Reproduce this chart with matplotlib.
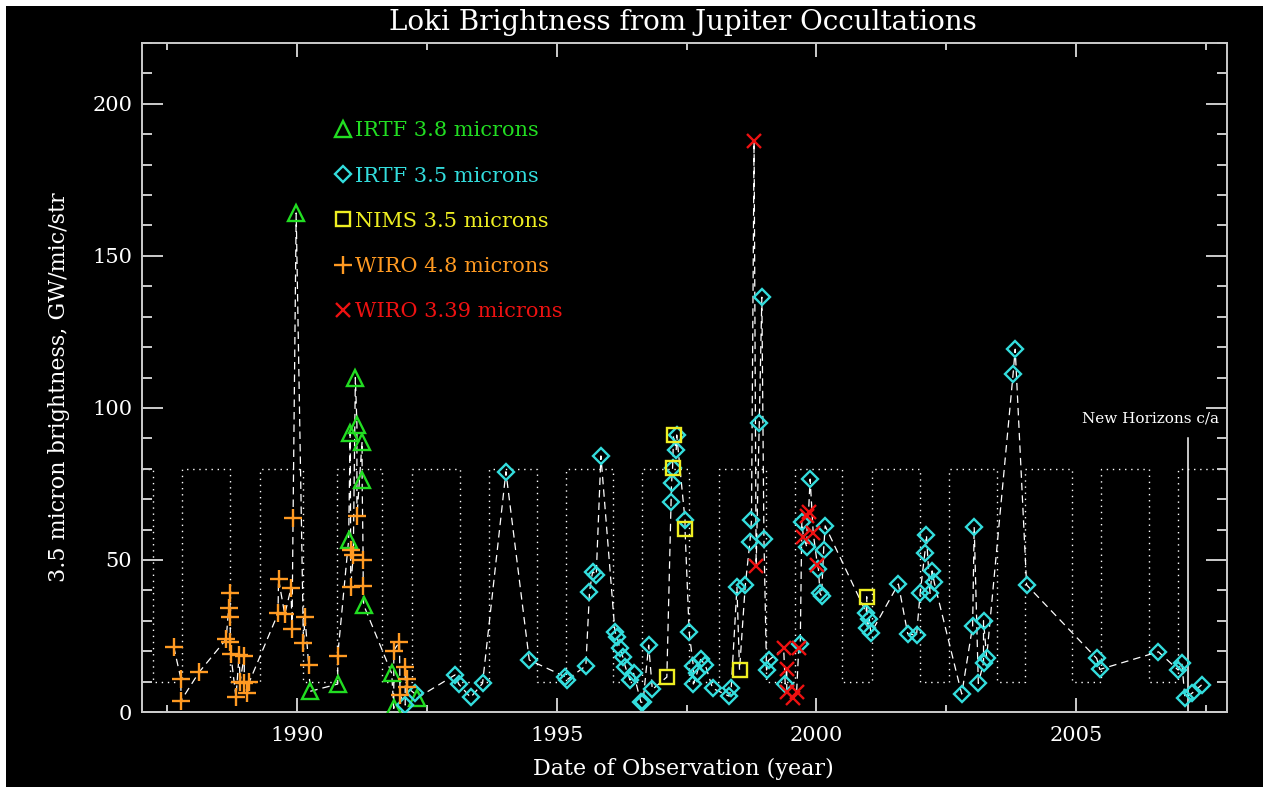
import numpy as np
import matplotlib
matplotlib.use('Agg')
import matplotlib.pyplot as plt
from matplotlib.ticker import MultipleLocator
from matplotlib.patches import Rectangle

plt.rcParams['font.family'] = ['DejaVu Serif']

# IRTF 3.8 microns (green triangles)
irtf38_t = [1989.98, 1990.25, 1990.78, 1990.99, 1991.02, 1991.12, 1991.15, 1991.25,
            1991.25, 1991.28, 1991.82, 1991.86, 1992.30]
irtf38_v = [164.1, 6.8, 9.2, 56.6, 91.7, 110.0, 94.4, 88.9, 76.3, 35.2, 12.7, 1.2, 4.5]

# IRTF 3.5 microns (cyan diamonds)
irtf35_t = [1992.08, 1992.26, 1993.04, 1993.11, 1993.34, 1993.57, 1994.02, 1994.47,
            1995.16, 1995.19, 1995.56, 1995.63, 1995.69, 1995.76, 1995.85, 1996.12,
            1996.16, 1996.21, 1996.27, 1996.32, 1996.41, 1996.48, 1996.62, 1996.66,
            1996.77, 1996.84, 1997.20, 1997.21, 1997.23, 1997.30, 1997.31, 1997.47,
            1997.55, 1997.63, 1997.63, 1997.70, 1997.77, 1997.86, 1998.00, 1998.32,
            1998.36, 1998.47, 1998.63, 1998.72, 1998.75, 1998.90, 1998.95, 1998.99,
            1999.04, 1999.08, 1999.40, 1999.69, 1999.72, 1999.82, 1999.88, 2000.04,
            2000.07, 2000.10, 2000.14, 2000.17, 2000.96, 2000.98, 2001.02, 2001.05,
            2001.58, 2001.76, 2001.93, 2002.00, 2002.09, 2002.12, 2002.19, 2002.23,
            2002.27, 2002.80, 2003.01, 2003.04, 2003.12, 2003.22, 2003.22, 2003.28,
            2003.79, 2003.83, 2004.05, 2005.40, 2005.46, 2006.59, 2006.97, 2007.04,
            2007.10, 2007.23, 2007.42]
irtf35_v = [2.3, 6.1, 12.2, 9.2, 4.8, 9.4, 79.0, 17.1,
            11.6, 10.5, 15.2, 39.5, 46.2, 45.1, 84.2, 26.4,
            24.8, 21.2, 18.2, 14.9, 10.5, 12.7, 3.2, 3.2,
            22.0, 7.4, 69.2, 75.2, 80.1, 86.0, 91.1, 63.2,
            26.2, 15.1, 9.2, 12.7, 17.3, 15.5, 7.8, 5.2,
            7.9, 41.0, 41.6, 55.9, 63.0, 94.9, 136.4, 57.0,
            13.8, 17.0, 9.2, 22.2, 62.6, 54.1, 76.6, 46.9,
            39.0, 38.2, 53.3, 61.2, 32.7, 27.5, 30.5, 25.9,
            42.1, 25.7, 25.3, 39.2, 52.4, 58.2, 39.0, 46.4,
            42.7, 5.9, 28.3, 60.9, 9.4, 16.2, 30.0, 17.9,
            111.2, 119.3, 41.8, 17.6, 14.0, 19.8, 13.8, 16.2,
            4.5, 6.1, 8.9]

# NIMS 3.5 microns (yellow squares)
nims_t = [1997.12, 1997.23, 1997.25, 1997.47, 1998.52, 2000.97]
nims_v = [11.5, 80.1, 91.1, 60.1, 13.8, 37.9]

# WIRO 4.8 microns (orange plus)
wiro48_t = [1987.62, 1987.76, 1987.76, 1988.11, 1988.63, 1988.68, 1988.70, 1988.71,
            1988.71, 1988.72, 1988.82, 1988.88, 1988.90, 1988.98, 1988.98, 1989.04,
            1989.08, 1989.63, 1989.64, 1989.76, 1989.88, 1989.90, 1989.92, 1990.12,
            1990.15, 1990.22, 1990.78, 1991.03, 1991.03, 1991.08, 1991.15, 1991.27,
            1991.27, 1991.86, 1991.97, 1991.98, 1992.08, 1992.11, 1992.11]
wiro48_v = [21.5, 10.9, 3.7, 13.1, 23.9, 34.1, 39.2, 31.2,
            22.9, 19.1, 4.8, 18.8, 10.0, 18.5, 9.4, 6.1,
            10.0, 32.4, 43.7, 32.1, 40.7, 27.3, 63.9, 22.6,
            31.2, 15.6, 18.5, 53.3, 41.0, 51.6, 64.3, 50.0,
            41.5, 20.2, 23.1, 5.6, 14.9, 10.7, 8.2]

# WIRO 3.39 microns (red x)
wiro339_t = [1998.80, 1998.84, 1999.37, 1999.43, 1999.43, 1999.55, 1999.62, 1999.66,
             1999.75, 1999.82, 1999.85, 1999.94, 2000.02]
wiro339_v = [187.7, 47.9, 20.9, 14.3, 6.6, 4.5, 6.6, 20.9, 57.7, 64.3, 65.9, 58.7, 48.4]

# observing-window square wave (switch dates), levels 80 / 10
wave_edges = [1987.23, 1987.79, 1988.71, 1989.29, 1990.12, 1990.77, 1991.64, 1992.22,
              1993.14, 1993.70, 1994.62, 1995.18, 1996.09, 1996.64, 1997.55, 1998.13,
              1999.03, 1999.59, 2000.50, 2001.07, 2002.00, 2002.56, 2003.48, 2004.02,
              2004.92, 2005.48, 2006.41, 2006.97]
wave_hi, wave_lo = 80, 10
nh_date = 2007.16

xmin, xmax = 1987.01, 2007.91

fig = plt.figure(figsize=(12.63, 7.87), dpi=100, facecolor='white')
fig.patches.append(Rectangle((6/1263, 0), 1, 1 - 6/787, transform=fig.transFigure,
                             facecolor='black', edgecolor='none', zorder=-10))
ax = fig.add_axes([142/1263, 75/787, 1085/1263, 669/787])
ax.set_facecolor('black')

# square wave
wx = [xmin]
wy = [wave_hi]
level = wave_hi
for e in wave_edges:
    wx += [e, e]
    nxt = wave_lo if level == wave_hi else wave_hi
    wy += [level, nxt]
    level = nxt
wx.append(xmax)
wy.append(level)
ax.plot(wx, wy, color='white', lw=1.0, linestyle=(0, (1.0, 3.4)), zorder=1)

# chronological dashed line through all points
all_t = np.array(irtf38_t + irtf35_t + nims_t + wiro48_t + wiro339_t)
all_v = np.array(irtf38_v + irtf35_v + nims_v + wiro48_v + wiro339_v)
order = np.argsort(all_t, kind='stable')
ax.plot(all_t[order], all_v[order], color='white', lw=0.9, dashes=(6, 4), zorder=2)

mk = dict(linestyle='none', mfc='none', mew=1.7, zorder=3)
ax.plot(irtf38_t, irtf38_v, marker='^', ms=11, mec='#22dd22', label='IRTF 3.8 microns', **mk)
ax.plot(irtf35_t, irtf35_v, marker='D', ms=8.5, mec='#33dddd', label='IRTF 3.5 microns', **mk)
ax.plot(nims_t, nims_v, marker='s', ms=10.5, mec='#eeee22', label='NIMS 3.5 microns', **mk)
ax.plot(wiro48_t, wiro48_v, marker='+', ms=13, mec='#ff9a22', label='WIRO 4.8 microns', **mk)
ax.plot(wiro339_t, wiro339_v, marker='x', ms=10, mec='#ee1111', label='WIRO 3.39 microns', **mk)

# New Horizons closest approach
ax.plot([nh_date, nh_date], [0, 90], color='white', lw=1.1, zorder=2)
ax.text(2007.75, 96.5, 'New Horizons c/a', color='white', fontsize=11,
        ha='right', va='center')

ax.set_xlim(xmin, xmax)
ax.set_ylim(0, 220)
ax.xaxis.set_major_locator(MultipleLocator(5))
ax.xaxis.set_minor_locator(MultipleLocator(2.5))
ax.yaxis.set_major_locator(MultipleLocator(50))
ax.yaxis.set_minor_locator(MultipleLocator(10))
ax.tick_params(axis='both', which='both', direction='in', top=True, right=True,
               colors='#cccccc', labelcolor='white', labelsize=15, width=1.4)
ax.tick_params(axis='x', which='major', length=10, pad=10)
ax.tick_params(axis='x', which='minor', length=5)
ax.tick_params(axis='y', which='major', length=15, pad=7)
ax.tick_params(axis='y', which='minor', length=7.5)
for s in ax.spines.values():
    s.set_color('#cccccc')
    s.set_linewidth(1.4)

ax.set_xlabel('Date of Observation (year)', color='white', fontsize=16)
ax.xaxis.set_label_coords(0.4986, -0.069)
ax.set_ylabel('3.5 micron brightness, GW/mic/str', color='white', fontsize=16)
ax.yaxis.set_label_coords(-0.066, 0.486)
fig.text(683/1263, 0.971, 'Loki Brightness from Jupiter Occultations', color='white',
         fontsize=20, ha='center', va='center')

leg = ax.legend(loc='upper left', bbox_to_anchor=(0.178, 0.883), frameon=False,
                fontsize=15, labelcolor='markeredgecolor', handlelength=0.8,
                handletextpad=0.15, labelspacing=1.26, borderpad=0, borderaxespad=0)

fig.savefig('out.png', dpi=100, facecolor=fig.get_facecolor())
